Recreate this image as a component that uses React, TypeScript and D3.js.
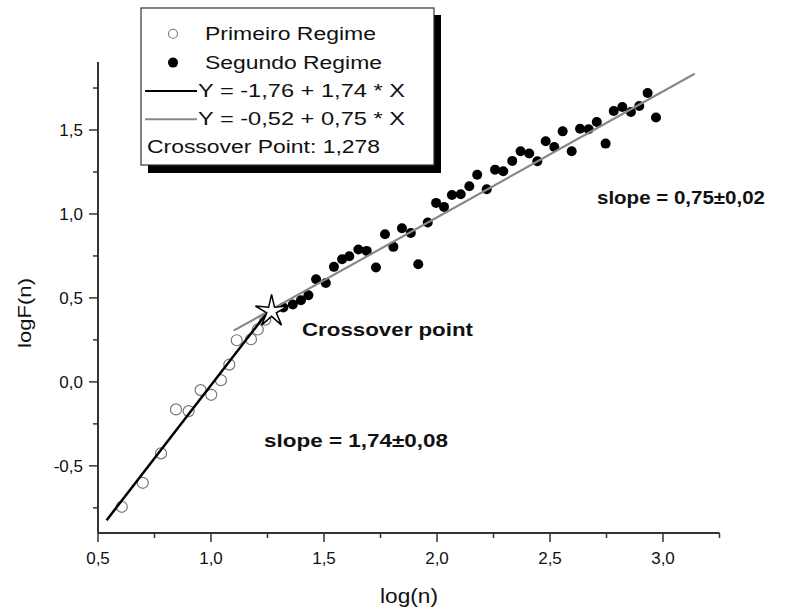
import React from "react";
import * as d3 from "d3";

const primeiroX = [0.605, 0.698, 0.779, 0.845, 0.901, 0.954, 1.001, 1.044, 1.081, 1.114, 1.177, 1.207, 1.24];
const primeiroY = [-0.744, -0.601, -0.426, -0.164, -0.174, -0.049, -0.077, 0.010, 0.103, 0.248, 0.254, 0.312, 0.37];

const segundoX = [
  1.320, 1.362, 1.398, 1.431, 1.465, 1.508, 1.544, 1.580, 1.612, 1.652, 1.689, 1.730, 1.770, 1.807, 1.845,
  1.884, 1.917, 1.959, 1.996, 2.031, 2.066, 2.105, 2.143, 2.178, 2.220, 2.257, 2.293, 2.333, 2.370, 2.408,
  2.444, 2.481, 2.519, 2.556, 2.596, 2.633, 2.671, 2.707, 2.746, 2.782, 2.820, 2.858, 2.895, 2.932, 2.969,
];
const segundoY = [
  0.443, 0.461, 0.486, 0.516, 0.611, 0.589, 0.685, 0.730, 0.748, 0.788, 0.780, 0.681, 0.879, 0.804, 0.915,
  0.887, 0.701, 0.949, 1.066, 1.042, 1.113, 1.117, 1.165, 1.234, 1.147, 1.264, 1.254, 1.316, 1.373, 1.360,
  1.314, 1.433, 1.399, 1.492, 1.373, 1.508, 1.504, 1.548, 1.419, 1.613, 1.637, 1.607, 1.643, 1.720, 1.574,
];

const fit1 = { a: -1.76, b: 1.74, x0: 0.538, x1: 1.27 };
const fit2 = { a: -0.52, b: 0.75, x0: 1.1, x1: 3.14 };
const crossoverX = 1.268;
const crossoverY = 0.42;

const xMajorTicks = [0.5, 1.0, 1.5, 2.0, 2.5, 3.0];
const xMinorTicks = [0.75, 1.25, 1.75, 2.25, 2.75, 3.25];
const yMajorTicks = [-0.5, 0.0, 0.5, 1.0, 1.5];
const yMinorTicks = [-0.75, -0.25, 0.25, 0.75, 1.25, 1.75];

const legendLabels = ["Primeiro Regime", "Segundo Regime", "Y = -1,76 + 1,74 * X", "Y = -0,52 + 0,75 * X", "Crossover Point: 1,278"];

const FONT = "'Liberation Sans', Arial, Helvetica, sans-serif";

export default function App() {
  const left = 98, right = 719.5, top = 62, bottom = 533;
  const x = d3.scaleLinear().domain([0.5, 3.25]).range([left, right]);
  const y = d3.scaleLinear().domain([-0.9, 1.905]).range([bottom, top]);
  const fmt = (v: number) => d3.format(".1f")(v).replace(".", ",").replace("−", "-");

  const line = d3.line<number>().x((d) => x(d[0])).y((d) => y(d[1]));
  const seg = (f: typeof fit1) => line([[f.x0, f.a + f.b * f.x0], [f.x1, f.a + f.b * f.x1]] as any);

  const cx = x(crossoverX), cy = y(crossoverY);
  const outer = 17, inner = 5;
  const starPts: [number, number][] = d3.range(10).map((i) => {
    const r = i % 2 === 0 ? outer : inner;
    const ang = -Math.PI / 2 + (i * Math.PI) / 5;
    return [cx + r * Math.cos(ang), cy + r * Math.sin(ang)];
  });
  const starPath = d3.line()(starPts) + "Z";

  const axisColor = "#333";
  const rowY = [39.8, 68.6, 97, 125.3, 152.8];

  return (
    <svg width={785} height={612} style={{ position: "absolute", left: 0, top: 0, background: "#fff" }} fontFamily={FONT}>
      <rect width={785} height={612} fill="#fff" />

      <line x1={left} x2={right} y1={bottom} y2={bottom} stroke={axisColor} strokeWidth={2} />
      <line x1={left} x2={left} y1={top} y2={bottom} stroke={axisColor} strokeWidth={2} />
      {xMajorTicks.map((t) => (
        <g key={"xm" + t}>
          <line x1={x(t)} x2={x(t)} y1={bottom} y2={bottom + 9} stroke={axisColor} strokeWidth={1.5} />
          <text x={x(t)} y={564} fontSize={17} textAnchor="middle" fill="#111">{fmt(t)}</text>
        </g>
      ))}
      {xMinorTicks.map((t) => (
        <line key={"xn" + t} x1={x(t)} x2={x(t)} y1={bottom} y2={bottom + 5} stroke={axisColor} strokeWidth={1.5} />
      ))}
      {yMajorTicks.map((t) => (
        <g key={"ym" + t}>
          <line x1={left - 9} x2={left} y1={y(t)} y2={y(t)} stroke={axisColor} strokeWidth={1.5} />
          <text x={83} y={y(t) + 6} fontSize={17} textAnchor="end" fill="#111">{fmt(t)}</text>
        </g>
      ))}
      {yMinorTicks.map((t) => (
        <line key={"yn" + t} x1={left - 5} x2={left} y1={y(t)} y2={y(t)} stroke={axisColor} strokeWidth={1.5} />
      ))}

      <text x={409} y={603} fontSize={21} textAnchor="middle" fill="#111" textLength={58} lengthAdjust="spacingAndGlyphs">log(n)</text>
      <text transform={`translate(31,313) rotate(-90)`} fontSize={19} textAnchor="middle" fill="#111" textLength={70} lengthAdjust="spacingAndGlyphs">logF(n)</text>

      {primeiroX.map((v, i) => (
        <circle key={"p" + i} cx={x(v)} cy={y(primeiroY[i])} r={5.5} fill="#fff" stroke="#777" strokeWidth={1.2} />
      ))}
      {segundoX.map((v, i) => (
        <circle key={"s" + i} cx={x(v)} cy={y(segundoY[i])} r={5} fill="#000" />
      ))}

      <path d={seg(fit1) || ""} stroke="#000" strokeWidth={2.5} fill="none" />
      <path d={seg(fit2) || ""} stroke="#888" strokeWidth={2.2} fill="none" />

      <path d={starPath} fill="#fff" stroke="#000" strokeWidth={1.5} strokeLinejoin="miter" />

      <text x={302} y={336} fontSize={19} fontWeight="bold" fill="#111" textLength={171} lengthAdjust="spacingAndGlyphs">Crossover point</text>
      <text x={597} y={204} fontSize={18} fontWeight="bold" fill="#111" textLength={168} lengthAdjust="spacingAndGlyphs">slope = 0,75±0,02</text>
      <text x={264} y={447} fontSize={18} fontWeight="bold" fill="#111" textLength={184} lengthAdjust="spacingAndGlyphs">slope = 1,74±0,08</text>

      <rect x={148} y={15} width={293} height={158} fill="#000" />
      <rect x={141} y={8} width={293} height={157} fill="#fff" stroke="#333" strokeWidth={1.2} />
      <circle cx={173} cy={rowY[0] - 6} r={4.5} fill="#fff" stroke="#777" strokeWidth={1.1} />
      <circle cx={173} cy={rowY[1] - 6} r={5} fill="#000" />
      <line x1={145} x2={197} y1={rowY[2] - 6} y2={rowY[2] - 6} stroke="#000" strokeWidth={2.2} />
      <line x1={145} x2={197} y1={rowY[3] - 6} y2={rowY[3] - 6} stroke="#888" strokeWidth={2} />
      <text x={205} y={rowY[0]} fontSize={18} fill="#111" textLength={171} lengthAdjust="spacingAndGlyphs">{legendLabels[0]}</text>
      <text x={205} y={rowY[1]} fontSize={18} fill="#111" textLength={177} lengthAdjust="spacingAndGlyphs">{legendLabels[1]}</text>
      <text x={198} y={rowY[2]} fontSize={18} fill="#111" textLength={207} lengthAdjust="spacingAndGlyphs">{legendLabels[2]}</text>
      <text x={198} y={rowY[3]} fontSize={18} fill="#111" textLength={207} lengthAdjust="spacingAndGlyphs">{legendLabels[3]}</text>
      <text x={147} y={rowY[4]} fontSize={18} fill="#111" textLength={233} lengthAdjust="spacingAndGlyphs">{legendLabels[4]}</text>
    </svg>
  );
}
